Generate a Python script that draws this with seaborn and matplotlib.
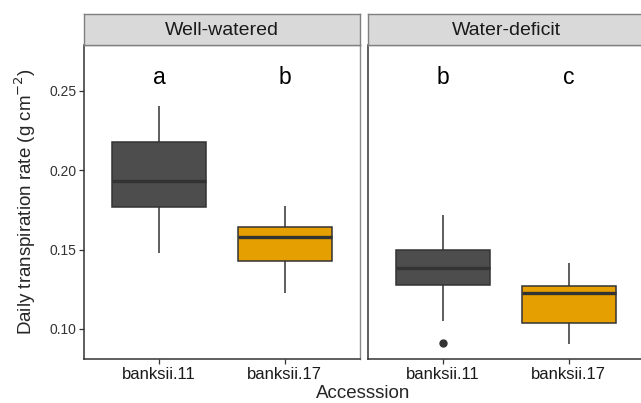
import matplotlib

matplotlib.use("Agg")

import matplotlib.pyplot as plt
import pandas as pd
import seaborn as sns

ACCESSIONS = ["banksii.11", "banksii.17"]
TREATMENTS = ["Well-watered", "Water-deficit"]
ww_banksii11 = [0.1476, 0.1767, 0.1767, 0.1930, 0.1930, 0.1930, 0.2177, 0.2177, 0.2405]
ww_banksii17 = [0.1224, 0.1430, 0.1430, 0.1577, 0.1577, 0.1577, 0.1645, 0.1645, 0.1773]
wd_banksii11 = [0.0912, 0.1050, 0.1279, 0.1386, 0.1386, 0.1386, 0.1500, 0.1500, 0.1718]
wd_banksii17 = [0.0902, 0.1037, 0.1037, 0.1224, 0.1224, 0.1224, 0.1273, 0.1273, 0.1413]
LETTERS = {"Well-watered": ["a", "b"], "Water-deficit": ["b", "c"]}
LETTER_Y = 0.2588

PALETTE = {"banksii.11": "#4D4D4D", "banksii.17": "#E69F00"}

rows = []
for treat, acc, vals in [
    ("Well-watered", "banksii.11", ww_banksii11),
    ("Well-watered", "banksii.17", ww_banksii17),
    ("Water-deficit", "banksii.11", wd_banksii11),
    ("Water-deficit", "banksii.17", wd_banksii17),
]:
    for v in vals:
        rows.append({"treatment": treat, "accession": acc, "rate": v})
df = pd.DataFrame(rows)

sns.set_style("white")
plt.rcParams["font.family"] = ["Liberation Sans", "DejaVu Sans"]

fig = plt.figure(figsize=(6.41, 4.03), dpi=100)
W, H = 641, 403
panel_w = 276
lefts = [84, 368]
top, bottom = 45, 359
strip_top = 14

for i, treat in enumerate(TREATMENTS):
    ax = fig.add_axes([lefts[i] / W, 1 - bottom / H, panel_w / W, (bottom - top) / H])
    sub = df[df["treatment"] == treat]
    sns.boxplot(
        data=sub, x="accession", y="rate", hue="accession", order=ACCESSIONS,
        palette=PALETTE, saturation=1, width=0.75, linecolor="#333333", linewidth=1.1,
        fliersize=5, showcaps=False, legend=False, ax=ax,
        flierprops=dict(marker="o", markerfacecolor="#333333", markeredgecolor="#333333"),
        medianprops=dict(linewidth=2.4),
    )
    ax.set_xlim(-0.6, 1.6)
    ax.set_ylim(0.081, 0.279)
    ax.set_xlabel("")
    ax.set_ylabel("")
    for j, letter in enumerate(LETTERS[treat]):
        ax.text(j, LETTER_Y, letter, ha="center", va="center", fontsize=16.5, color="black")
    for side in ["top", "right"]:
        ax.spines[side].set_color("#8c8c8c")
        ax.spines[side].set_linewidth(1)
    for side in ["left", "bottom"]:
        ax.spines[side].set_color("#333333")
        ax.spines[side].set_linewidth(1.1)
    ax.tick_params(axis="x", length=3.5, width=0.9, color="#333333", labelsize=12,
                   labelcolor="#1a1a1a", bottom=True, pad=2)
    if i == 0:
        ax.set_yticks([0.10, 0.15, 0.20, 0.25])
        ax.set_yticklabels(["0.10", "0.15", "0.20", "0.25"])
        ax.tick_params(axis="y", length=3.5, width=0.9, color="#333333", labelsize=10,
                       labelcolor="#333333", left=True, pad=2)
    else:
        ax.set_yticks([])

    sax = fig.add_axes([lefts[i] / W, 1 - top / H, panel_w / W, (top - strip_top) / H])
    sax.set_facecolor("#D9D9D9")
    sax.set_xticks([])
    sax.set_yticks([])
    for s in sax.spines.values():
        s.set_color("#7f7f7f")
        s.set_linewidth(1)
    sax.text(0.5, 0.48, treat, ha="center", va="center", fontsize=14, color="#1a1a1a",
             transform=sax.transAxes)

fig.text(25 / W, 1 - 202 / H, "Daily transpiration rate (g cm$^{-2}$)", rotation=90,
         ha="center", va="center", fontsize=13.5)
fig.text(363 / W, 1 - 393 / H, "Accesssion", ha="center", va="center", fontsize=13.5)

fig.savefig("out.png", dpi=100)
